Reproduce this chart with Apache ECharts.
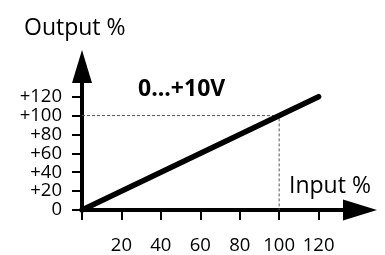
<!DOCTYPE html>
<html><head><meta charset="utf-8">
<script src="https://cdn.jsdelivr.net/npm/echarts@6/dist/echarts.min.js"></script>
<style>html,body{margin:0;padding:0;background:#fff}#c{width:385px;height:255px}</style>
</head><body><div id="c"></div>
<script>
var lineX = [0, 120];
var lineY = [0, 120];
var refX = [0, 100, 100];
var refY = [100, 100, 0];
var xTicks = [0, 20, 40, 60, 80, 100, 120];
var xLabels = [20, 40, 60, 80, 100, 120];
var yTicks = [0, 20, 40, 60, 80, 100, 120];
var yLabelText = ['0', '+20', '+40', '+60', '+80', '+100', '+120'];
var titleText = '0...+10V';
var xName = 'Input %';
var yName = 'Output %';

var F = '"Open Sans", sans-serif';
var chart = echarts.init(document.getElementById('c'), null, {renderer: 'canvas'});
chart.setOption({
  animation: false,
  backgroundColor: '#fff',
  grid: {left: 82, right: 25, top: 66.5, bottom: 39},
  xAxis: {
    type: 'value', min: 0, max: 141,
    splitLine: {show: false},
    axisLine: {lineStyle: {color: '#000', width: 4}, symbol: ['none', 'triangle'], symbolSize: [21, 34]},
    axisTick: {customValues: xTicks, length: 10, lineStyle: {color: '#000', width: 2}},
    axisLabel: {customValues: xLabels, margin: 26, fontFamily: F, fontSize: 18.5, color: '#000'}
  },
  yAxis: {
    type: 'value', min: 0, max: 152,
    splitLine: {show: false},
    axisLine: {lineStyle: {color: '#000', width: 4}, symbol: ['none', 'triangle'], symbolSize: [20, 33]},
    axisTick: {customValues: yTicks, length: 10, lineStyle: {color: '#000', width: 2}},
    axisLabel: {customValues: yTicks, margin: 20, fontFamily: F, fontSize: 18.5, color: '#000',
      formatter: function (v) { var i = yTicks.indexOf(v); return i >= 0 ? yLabelText[i] : ''; }}
  },
  graphic: [
    {type: 'text', left: 24, top: 17, style: {text: yName, font: '23px ' + F, fill: '#000'}},
    {type: 'text', left: 138, top: 78, style: {text: titleText, font: 'bold 23px ' + F, fill: '#000'}},
    {type: 'text', left: 289, top: 175, style: {text: xName, font: '23px ' + F, fill: '#000'}}
  ],
  series: [
    {type: 'line', data: refX.map(function (x, i) { return [x, refY[i]]; }), symbol: 'none', z: 1,
      lineStyle: {color: '#555', width: 1, type: [3, 2]}},
    {type: 'line', data: lineX.map(function (x, i) { return [x, lineY[i]]; }), symbol: 'none', z: 3,
      lineStyle: {color: '#000', width: 5.5, cap: 'round'}}
  ]
});
</script></body></html>
